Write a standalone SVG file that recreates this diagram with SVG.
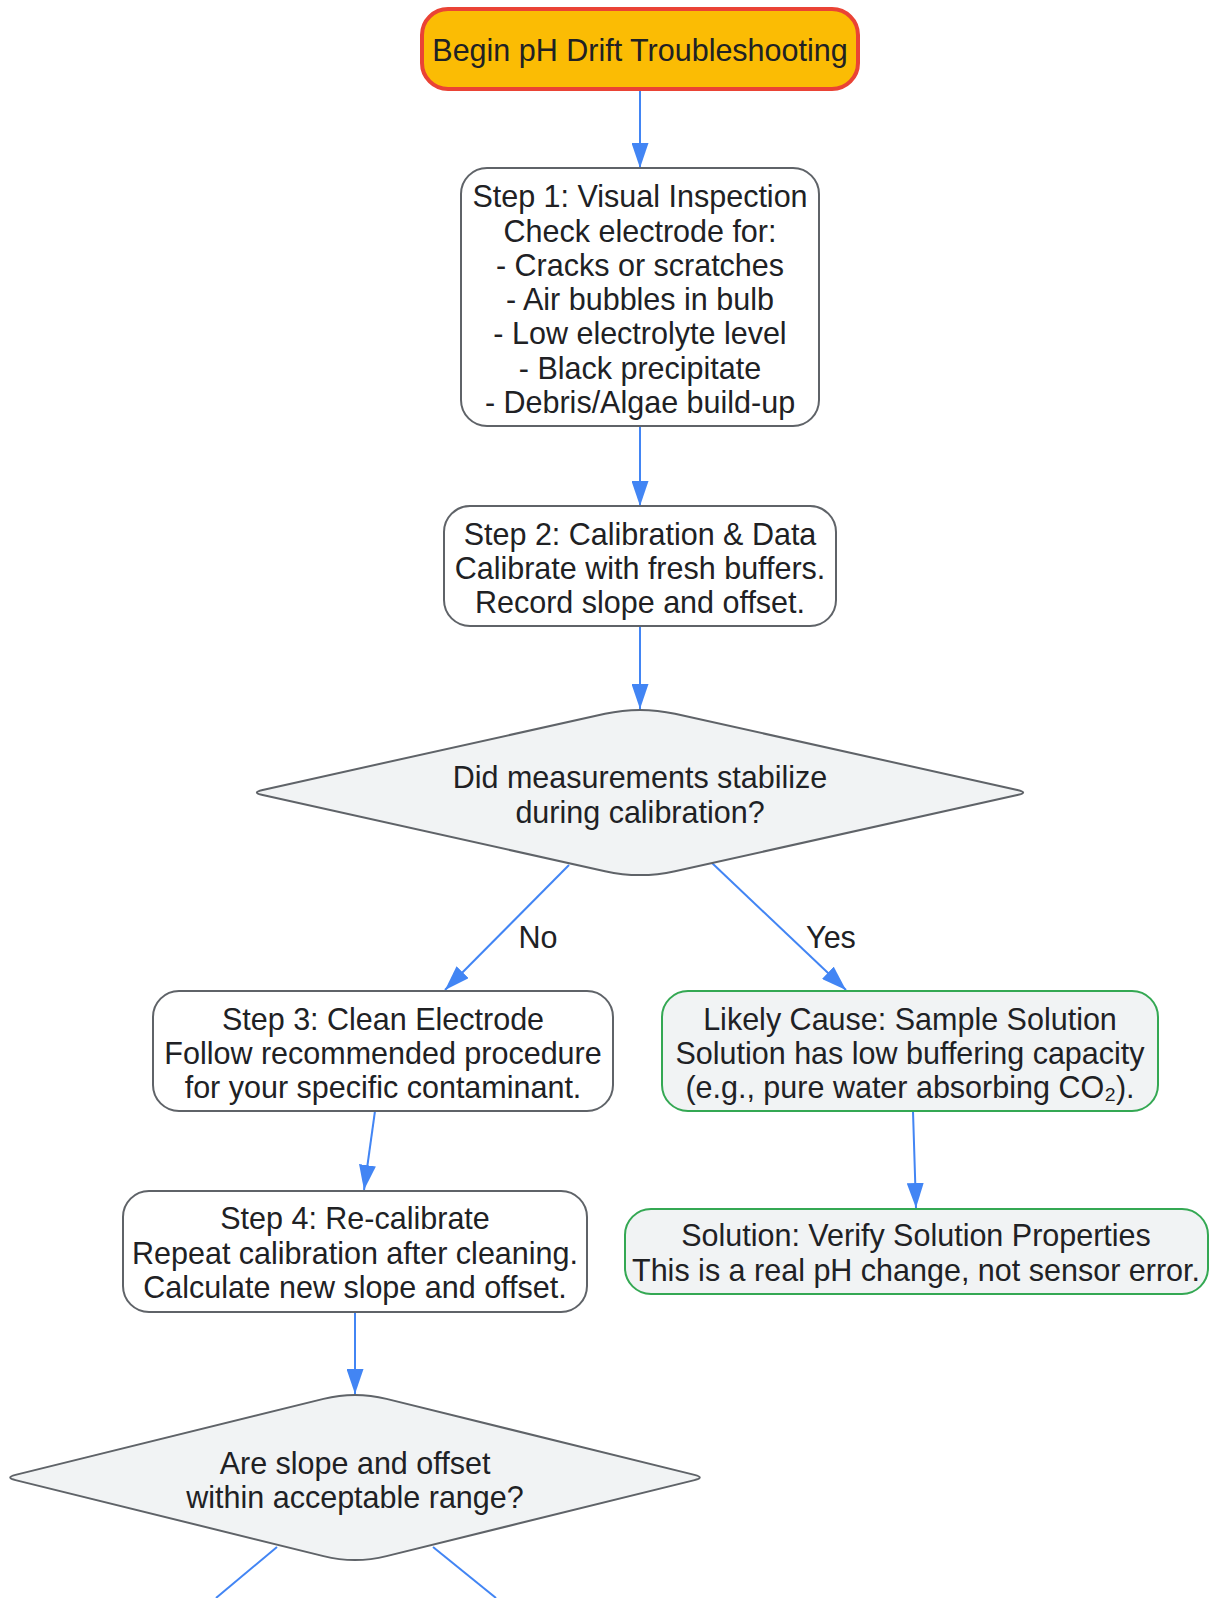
<svg xmlns="http://www.w3.org/2000/svg" width="1218" height="1598" viewBox="0 0 1218 1598">
<defs>
<marker id="arr" markerUnits="userSpaceOnUse" markerWidth="25" markerHeight="17" viewBox="0 0 25 17" refX="25" refY="8.5" orient="auto">
<path d="M0,0 L25,8.5 L0,17 z" fill="#4285f4"/>
</marker>
<style>
text{font-family:"Liberation Sans",Arial,sans-serif;font-size:30.5px;fill:#202124;text-anchor:middle}
.box{fill:#ffffff;stroke:#5f6368;stroke-width:2}
.dia{fill:#f1f3f4;stroke:#5f6368;stroke-width:2}
.grn{fill:#f1f3f4;stroke:#34a853;stroke-width:2}
.start{fill:#fbbc04;stroke:#ea4335;stroke-width:4}
.edge{fill:none;stroke:#4285f4;stroke-width:2}
</style>
</defs>
<rect width="1218" height="1598" fill="#ffffff"/>
<g id="connectors">
<line class="edge" x1="640" y1="90" x2="640" y2="168" marker-end="url(#arr)"/>
<line class="edge" x1="640" y1="426" x2="640" y2="506" marker-end="url(#arr)"/>
<line class="edge" x1="640" y1="626" x2="640" y2="709" marker-end="url(#arr)"/>
<line class="edge" x1="569" y1="865" x2="445" y2="990" marker-end="url(#arr)"/>
<line class="edge" x1="712" y1="863" x2="846" y2="990" marker-end="url(#arr)"/>
<line class="edge" x1="375" y1="1111" x2="364" y2="1190" marker-end="url(#arr)"/>
<line class="edge" x1="913" y1="1111" x2="916" y2="1208" marker-end="url(#arr)"/>
<line class="edge" x1="355" y1="1312" x2="355" y2="1394" marker-end="url(#arr)"/>
<line class="edge" x1="277" y1="1547" x2="216" y2="1598"/>
<line class="edge" x1="433" y1="1547" x2="496" y2="1598"/>
<text x="538" y="948">No</text>
<text x="831" y="948">Yes</text>
</g>
<g id="start">
<rect class="start" x="422" y="9" width="436" height="80" rx="26"/>
<text x="640" y="61">Begin pH Drift Troubleshooting</text>
</g>
<g id="step1">
<rect class="box" x="461" y="168" width="358" height="258" rx="26"/>
<text x="640" y="207">Step 1: Visual Inspection</text>
<text x="640" y="242">Check electrode for:</text>
<text x="640" y="276">- Cracks or scratches</text>
<text x="640" y="310">- Air bubbles in bulb</text>
<text x="640" y="344">- Low electrolyte level</text>
<text x="640" y="379">- Black precipitate</text>
<text x="640" y="413">- Debris/Algae build-up</text>
</g>
<g id="step2">
<rect class="box" x="444" y="506" width="392" height="120" rx="26"/>
<text x="640" y="545">Step 2: Calibration &amp; Data</text>
<text x="640" y="579">Calibrate with fresh buffers.</text>
<text x="640" y="613">Record slope and offset.</text>
</g>
<g id="decision1">
<path class="dia" d="M605,713.8 Q640,706 675,713.8 L1017.3,789.9 Q1029,792.5 1017.3,795.1 L675,871.2 Q640,879 605,871.2 L262.7,795.1 Q251,792.5 262.7,789.9 Z"/>
<text x="640" y="788">Did measurements stabilize</text>
<text x="640" y="823">during calibration?</text>
</g>
<g id="step3">
<rect class="box" x="153" y="991" width="460" height="120" rx="26"/>
<text x="383" y="1030">Step 3: Clean Electrode</text>
<text x="383" y="1064">Follow recommended procedure</text>
<text x="383" y="1098">for your specific contaminant.</text>
</g>
<g id="cause">
<rect class="grn" x="662" y="991" width="496" height="120" rx="26"/>
<text x="910" y="1030">Likely Cause: Sample Solution</text>
<text x="910" y="1064">Solution has low buffering capacity</text>
<text x="910" y="1098">(e.g., pure water absorbing CO₂).</text>
</g>
<g id="step4">
<rect class="box" x="123" y="1191" width="464" height="121" rx="26"/>
<text x="355" y="1229">Step 4: Re-calibrate</text>
<text x="355" y="1264">Repeat calibration after cleaning.</text>
<text x="355" y="1298">Calculate new slope and offset.</text>
</g>
<g id="solution">
<rect class="grn" x="625" y="1209" width="583" height="85" rx="26"/>
<text x="916" y="1246">Solution: Verify Solution Properties</text>
<text x="916" y="1281">This is a real pH change, not sensor error.</text>
</g>
<g id="decision2">
<path class="dia" d="M323.5,1398.9 Q355,1391.1 386.5,1398.9 L694.5,1474.9 Q705,1477.5 694.5,1480.1 L386.5,1556.1 Q355,1563.9 323.5,1556.1 L15.5,1480.1 Q5,1477.5 15.5,1474.9 Z"/>
<text x="355" y="1474">Are slope and offset</text>
<text x="355" y="1508">within acceptable range?</text>
</g>
</svg>
